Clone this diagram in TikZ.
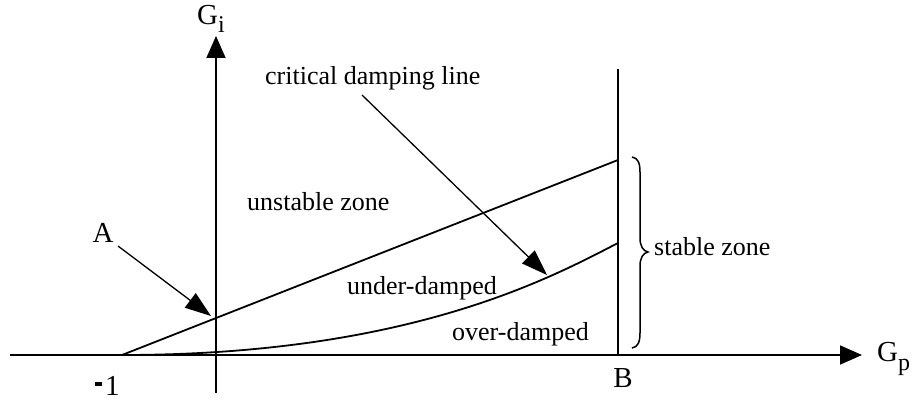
\documentclass[tikz,border=0pt]{standalone}
\usepackage{fontspec}
\setmainfont{Liberation Serif}
\usetikzlibrary{arrows.meta}
\begin{document}
\begin{tikzpicture}[x=1pt,y=-1pt,
  mainline/.style={line width=1.8pt},
  axisarrow/.style={mainline,-{Triangle[length=22pt,width=19pt]}},
  pointer/.style={line width=1.3pt,-{Triangle[length=26pt,width=18pt]}},
  lbl/.style={inner sep=0pt,anchor=base west,font=\fontsize{26}{30}\selectfont},
  biglbl/.style={inner sep=0pt,font=\fontsize{29}{32}\selectfont}]
\useasboundingbox (0,0) rectangle (919,401);
% coordinates
\coordinate (xs) at (10,355);
\coordinate (xe) at (862,355);
\coordinate (ys) at (216,393);
\coordinate (ye) at (216,36);
\coordinate (m1) at (122,355);
\coordinate (top) at (618,160);
\coordinate (crit) at (618,243);
\coordinate (bt) at (618,69);
\coordinate (bb) at (618,355);
\coordinate (pa) at (118,246);
\coordinate (ta) at (211,316);
\coordinate (pc) at (362,95);
\coordinate (tc) at (547,275);
% axes
\draw[axisarrow] (xs) -- (xe);
\draw[axisarrow] (ys) -- (ye);
% lines
\draw[mainline] (bt) -- (bb);
\draw[mainline] (m1) -- (top);
\draw[mainline] (m1) .. controls (410,355) and (552,277) .. (crit);
% brace
\draw[line width=1.5pt] (632,157) .. controls (638,158) and (640,163) .. (640,172)
  -- (640,238) .. controls (640,246) and (643,251) .. (648,252)
  .. controls (643,253) and (640,258) .. (640,266)
  -- (640,333) .. controls (640,342) and (638,347) .. (632,348);
% pointers
\draw[pointer] (pa) -- (ta);
\draw[pointer] (pc) -- (tc);
% labels
\node[biglbl,anchor=base west] (gi) at (197,25) {G\raisebox{-8pt}{\fontsize{24}{24}\selectfont i}};
\node[biglbl,anchor=base west] (gp) at (877,361) {G\raisebox{-9pt}{\fontsize{24}{24}\selectfont p}};
\node[biglbl,anchor=base] (la) at (103,242) {A};
\node[biglbl,anchor=base west] (lm) at (95,395) {\rule[9pt]{7pt}{4pt}\hspace{3pt}1};
\node[biglbl,anchor=base] (lb) at (623,387) {B};
\node[lbl] (lc) at (265,85) {critical damping line};
\node[lbl] (lu) at (247,211) {unstable zone};
\node[lbl] (lud) at (347,294) {under-damped};
\node[lbl] (lod) at (452,340) {over-damped};
\node[lbl] (ls) at (654,255) {stable zone};
\end{tikzpicture}
\end{document}
